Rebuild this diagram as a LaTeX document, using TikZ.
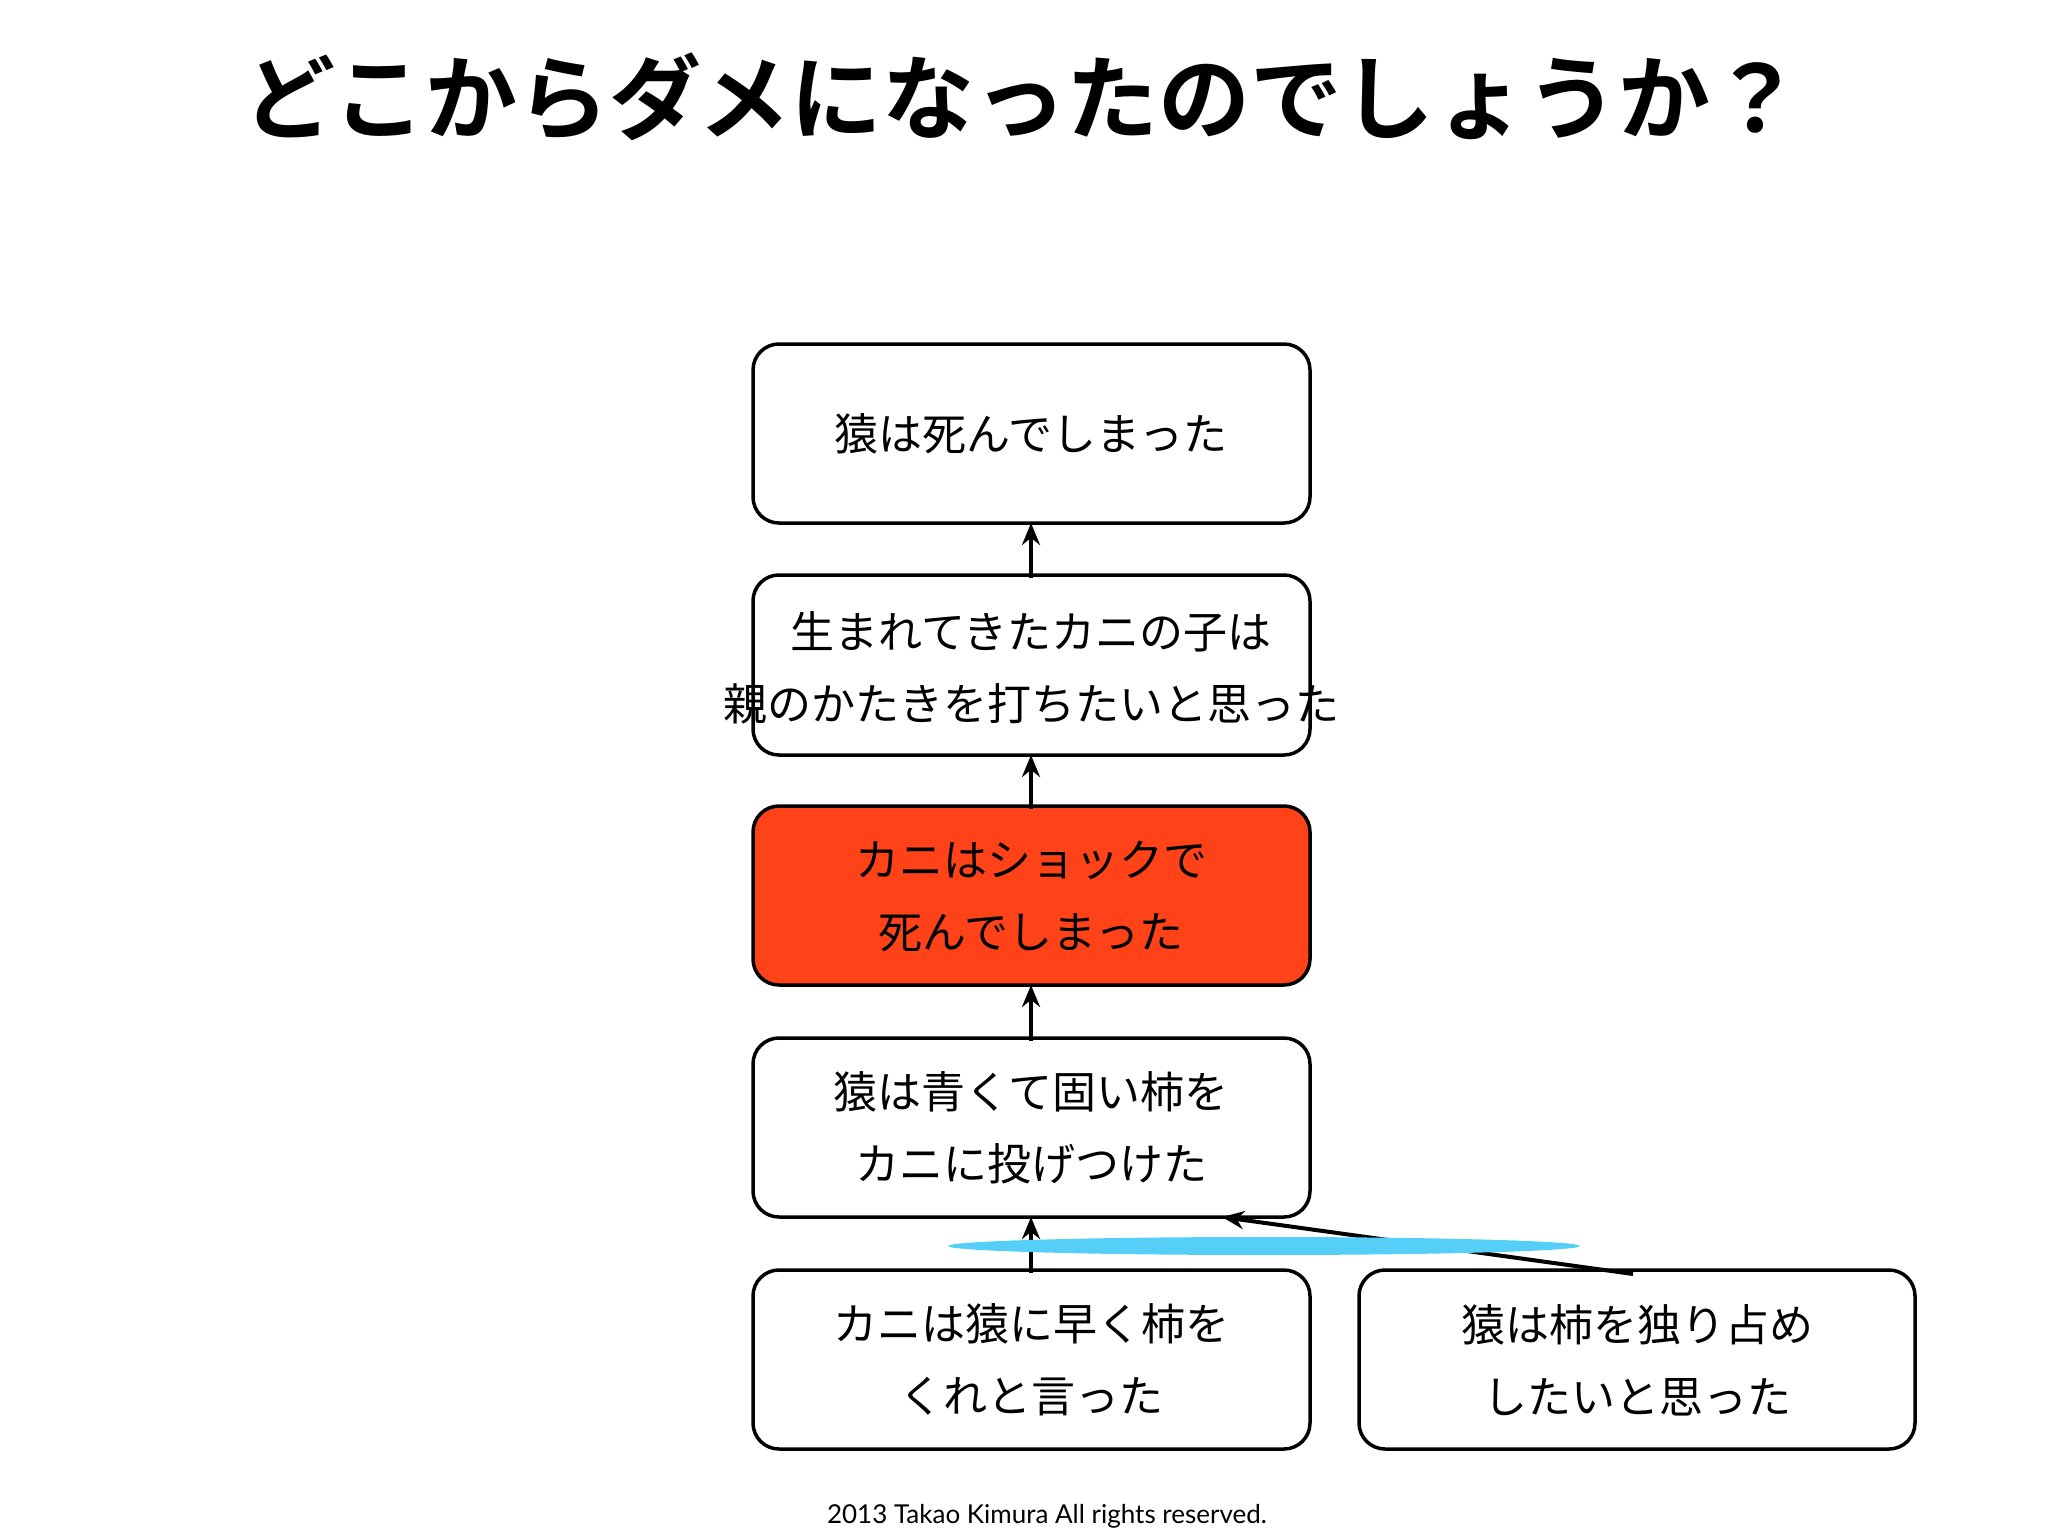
\documentclass[tikz,border=0pt]{standalone}
\usepackage{fontspec}
\newfontfamily\jp{Noto Sans CJK JP}
\newfontfamily\jpb{Noto Sans CJK JP Bold}
\setmainfont{Lato}
\usetikzlibrary{arrows.meta}
\definecolor{hot}{HTML}{FF4218}
\definecolor{sky}{HTML}{55CFF8}
\begin{document}
\begin{tikzpicture}[x=1pt,y=-1pt,
 bx/.style={draw,line width=3.5pt,rounded corners=26pt},
 tx/.style={font=\jp\fontsize{44}{72}\selectfont,align=center},
 ar/.style={line width=4pt,-{Stealth[length=22pt,width=18pt]}}]
\useasboundingbox (0,0) rectangle (2048,1536);
\node[font=\jpb\fontsize{92}{100}\selectfont] (t) at (1023,97) {どこからダメになったのでしょうか？};
\draw[bx] (753,344) rectangle (1310,523); \coordinate (b1) at (1031,523);
\node[tx] (n1) at (1031,434) {猿は死んでしまった};
\draw[bx] (753,575) rectangle (1310,755); \coordinate (b2t) at (1031,578); \coordinate (b2b) at (1031,755);
\node[tx] (n2) at (1031,668) {生まれてきたカニの子は\\親のかたきを打ちたいと思った};
\draw[bx,fill=hot] (753,806) rectangle (1310,985); \coordinate (b3t) at (1031,809); \coordinate (b3b) at (1031,985);
\node[tx] (n3) at (1031,896) {カニはショックで\\死んでしまった};
\draw[bx] (753,1038) rectangle (1310,1217); \coordinate (b4t) at (1031,1041); \coordinate (b4b) at (1031,1217); \coordinate (b4r) at (1222,1217);
\node[tx] (n4) at (1031,1128) {猿は青くて固い柿を\\カニに投げつけた};
\draw[bx] (753,1270) rectangle (1310,1449); \coordinate (b5t) at (1031,1273);
\node[tx] (n5) at (1031,1360) {カニは猿に早く柿を\\くれと言った};
\draw[bx] (1359,1270) rectangle (1915,1449); \coordinate (b6t) at (1633,1274);
\node[tx] (n6) at (1637,1360) {猿は柿を独り占め\\したいと思った};
\draw[ar] (b2t) -- (b1);
\draw[ar] (b3t) -- (b2b);
\draw[ar] (b4t) -- (b3b);
\draw[ar] (b5t) -- (b4b);
\draw[ar] (b6t) -- (b4r);
\fill[sky] (1264,1246) ellipse (316 and 9);
\node[font=\fontsize{26}{30}\selectfont] (f) at (1047,1516) {2013 Takao Kimura All rights reserved.};
\end{tikzpicture}
\end{document}
